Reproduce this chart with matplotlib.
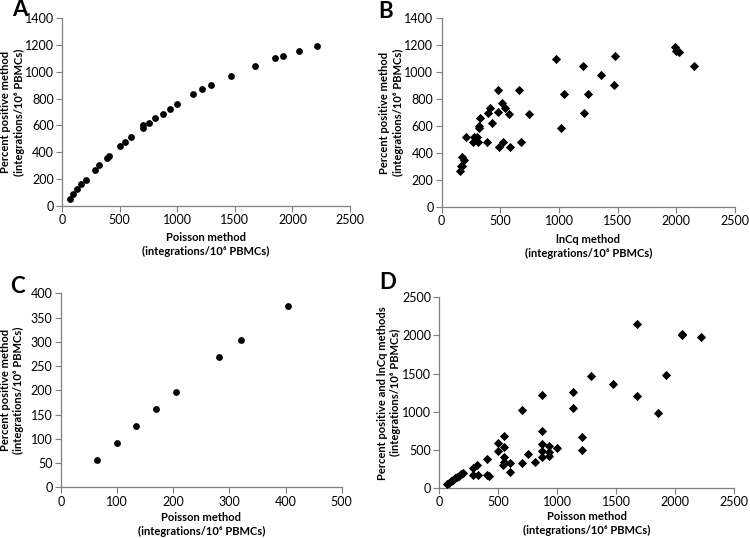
import matplotlib
matplotlib.use("Agg")
import matplotlib.pyplot as plt

plt.rcParams["font.family"] = ["Lato", "DejaVu Sans"]

# A: Poisson vs percent positive
a_x = [65, 99, 133, 169, 205, 282, 321, 390, 404, 500, 546, 598, 699, 699, 754, 809,
       873, 933, 997, 1133, 1211, 1289, 1471, 1679, 1853, 1922, 2058, 2214]
a_y = [56, 91, 127, 162, 197, 268, 303, 358, 374, 445, 480, 515, 584, 602, 619, 654,
       689, 724, 761, 833, 868, 903, 972, 1045, 1099, 1117, 1151, 1189]

# B: lnCq vs percent positive
b_x = [155, 161, 175, 172, 189, 203, 268, 274, 297, 310, 390, 522, 672, 488, 585,
       319, 319, 330, 432, 395, 480, 573, 740, 415, 536, 514, 483, 655, 1019, 1212,
       1045, 1246, 1469, 1356, 975, 1200, 1477, 1985, 2000, 2020, 2150]
b_y = [265, 302, 300, 372, 347, 515, 483, 515, 515, 483, 483, 483, 483, 446, 446,
       582, 602, 661, 624, 694, 701, 689, 689, 731, 731, 768, 869, 869, 587, 694,
       835, 835, 906, 976, 1100, 1048, 1120, 1189, 1155, 1151, 1048]

# C: low range subset
c_x = [65, 99, 133, 169, 205, 282, 321, 404]
c_y = [56, 91, 127, 162, 197, 268, 303, 374]

# D: Poisson vs percent positive and lnCq
d_x = [65, 82, 99, 116, 133, 151, 169, 187, 205, 283, 325, 283, 322, 405, 425, 404,
       500, 500, 546, 546, 546, 546, 598, 540, 598, 699, 699, 754, 809,
       873, 873, 873, 873, 873, 933, 933, 933, 997,
       1133, 1133, 1211, 1211, 1289, 1471, 1679, 1679, 1853, 1922, 2058, 2058, 2214]
d_y = [55, 72, 91, 109, 127, 145, 162, 180, 197, 170, 170, 266, 303, 175, 161, 374,
       489, 594, 686, 541, 410, 341, 324, 302, 210, 1028, 324, 442, 337,
       751, 577, 489, 410, 1215, 551, 476, 420, 520,
       1254, 1053, 665, 498, 1468, 1359, 1206, 2146, 983, 1481, 2020, 2000, 1984]

unit_lab = "(integrations/10\u2076 PBMCs)"
grey = "#7f7f7f"

fig = plt.figure(figsize=(7.5, 5.38), dpi=100)

# letter, rect, x, y, marker, size, xrange, yrange, xlabel, ylabel,
# xlabel pos, ylabel pos, letter pos (axes fraction)
panels = [
    ("A", [0.0827, 0.617, 0.384, 0.3495], a_x, a_y, "o", 24,
     (0, 2500, 500), (0, 1400, 200), "Poisson method", "Percent positive method",
     -0.138, -0.13, (-0.146, 1.045)),
    ("B", [0.589, 0.616, 0.391, 0.350], b_x, b_y, "D", 22,
     (0, 2500, 500), (0, 1400, 200), "lnCq method", "Percent positive method",
     -0.145, -0.128, (-0.19, 1.035)),
    ("C", [0.0813, 0.0942, 0.3743, 0.3606], c_x, c_y, "o", 24,
     (0, 500, 100), (0, 400, 50), "Poisson method", "Percent positive method",
     -0.127, -0.13, (-0.155, 1.037)),
    ("D", [0.5857, 0.0929, 0.3935, 0.3545], d_x, d_y, "D", 22,
     (0, 2500, 500), (0, 2500, 500), "Poisson method", "Percent positive and lnCq methods",
     -0.12, -0.128, (-0.175, 1.08)),
]

for letter, rect, xs, ys, mk, sz, xr, yr, xl, yl, xlp, ylp, lp in panels:
    ax = fig.add_axes(rect)
    ax.scatter(xs, ys, marker=mk, s=sz, color="black", linewidths=0, zorder=3)
    ax.set_xlim(xr[0], xr[1])
    ax.set_ylim(yr[0], yr[1])
    ax.set_xticks(range(xr[0], xr[1] + 1, xr[2]))
    ax.set_yticks(range(yr[0], yr[1] + 1, yr[2]))
    for s in ("top", "right"):
        ax.spines[s].set_visible(False)
    for s in ("left", "bottom"):
        ax.spines[s].set_color(grey)
        ax.spines[s].set_linewidth(0.9)
    ax.tick_params(direction="out", length=4, width=0.8, color=grey,
                   labelsize=9, pad=2, labelcolor="black")
    ax.set_xlabel(xl + "\n" + unit_lab, fontsize=8, fontweight="bold",
                  linespacing=1.3)
    ax.set_ylabel(yl + "\n" + unit_lab, fontsize=8, fontweight="bold",
                  linespacing=1.3)
    ax.xaxis.set_label_coords(0.5, xlp)
    ax.yaxis.set_label_coords(ylp, 0.5)
    ax.text(lp[0], lp[1], letter, transform=ax.transAxes, fontsize=16,
            fontweight="bold", ha="center", va="center")

fig.savefig("out.png", dpi=100)
